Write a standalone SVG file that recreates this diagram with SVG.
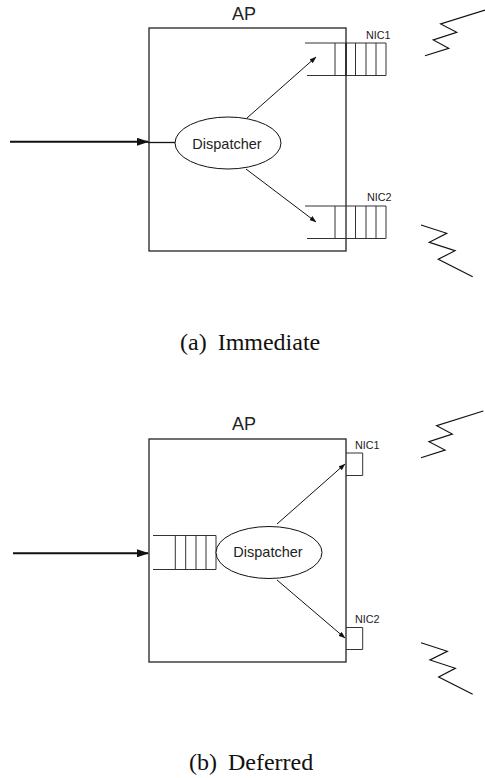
<svg xmlns="http://www.w3.org/2000/svg" width="485" height="778" viewBox="0 0 485 778">
<style>
.b{fill:none;stroke:#222;stroke-width:1.3}
.q{fill:none;stroke:#333;stroke-width:1}
.z{fill:none;stroke:#111;stroke-width:1.2}
.t{font-family:"Liberation Sans",Arial,sans-serif;fill:#222;stroke:none}
.c{font-family:"Liberation Serif","Times New Roman",serif;font-size:24px;word-spacing:5px;fill:#111}
.a{stroke:#111;stroke-width:1;fill:none;marker-end:url(#s)}
.A{stroke:#111;stroke-width:2;fill:none;marker-end:url(#l)}
</style>
<defs>
<marker id="s" markerUnits="userSpaceOnUse" markerWidth="7" markerHeight="5" refX="6.500" refY="2.500" orient="auto"><path d="M0 0L7 2.500L0 5z" fill="#111"/></marker>
<marker id="l" markerUnits="userSpaceOnUse" markerWidth="12" markerHeight="8" refX="11" refY="4" orient="auto"><path d="M0 0L12 4L0 8z" fill="#111"/></marker>
</defs>
<g id="diagram-a">
<g id="ap-a"><rect class="b" x="149" y="28" width="197" height="223"/><text class="t" x="232" y="20" font-size="18">AP</text></g>
<g id="nic1-a"><path class="q" d="M305 43H386V75.500H307M335 43V75.500M355.500 43V75.500M366 43V75.500M376 43V75.500"/><path stroke="#111" stroke-width="1.300" d="M346 43V75.500"/><text class="t" x="366" y="39" font-size="10.800">NIC1</text></g>
<g id="nic2-a"><path class="q" d="M305 206H386V238.500H307M335 206V238.500M355.500 206V238.500M366 206V238.500M376 206V238.500"/><text class="t" x="367" y="201" font-size="10.800">NIC2</text></g>
<g id="dispatcher-a"><ellipse cx="228" cy="143" rx="53" ry="26" fill="#fff" stroke="#111" stroke-width="1"/><text class="t" x="227" y="149" font-size="14.500" text-anchor="middle">Dispatcher</text></g>
<g id="wave1-a"><path class="z" d="M485 10L440.700 24L456.700 32.300L433.300 40L448.700 48.300L425 55.700"/></g>
<g id="wave2-a"><path class="z" d="M421 225L446.700 233.300L429.300 242.300L455 250.700L438.300 259.300L472.700 276.700"/></g>
</g>
<g id="diagram-b">
<g id="ap-b"><rect class="b" x="149" y="439" width="197" height="223"/><text class="t" x="232" y="430" font-size="18">AP</text></g>
<g id="queue-b"><path class="q" d="M153 535.500H216M153 569.500H216M175.300 535.500V569.500M185.700 535.500V569.500M196 535.500V569.500M206 535.500V569.500M216 535.500V569.500"/></g>
<g id="dispatcher-b"><ellipse cx="269" cy="552.500" rx="53" ry="26" fill="#fff" stroke="#111" stroke-width="1"/><text class="t" x="268" y="557" font-size="14.500" text-anchor="middle">Dispatcher</text></g>
<g id="nic1-b"><path class="q" d="M346 453H362.700V475.500H346"/><text class="t" x="355" y="448.500" font-size="10.800">NIC1</text></g>
<g id="nic2-b"><path class="q" d="M346 627.500H362.700V649.500H346"/><text class="t" x="355" y="623" font-size="10.800">NIC2</text></g>
<g id="wave1-b"><path class="z" d="M483.300 411L436.700 425.700L452.300 434L429 441.700L445 450L421 457.700"/></g>
<g id="wave2-b"><path class="z" d="M421 642.700L447.300 651.300L430 660L455.300 668.300L438.700 677L472.700 694.300"/></g>
</g>
<g id="connectors">
<path class="A" d="M10 141.800H148"/>
<path stroke="#111" stroke-width="1.300" d="M148 142.500H175"/>
<path class="a" d="M247 118L316 57"/>
<path class="a" d="M246 169L316 222"/>
<path class="A" d="M13 553.300H148"/>
<path class="a" d="M277 524L345 464"/>
<path class="a" d="M277 580L345 638"/>
</g>
<text class="c" x="180" y="350">(a) Immediate</text>
<text class="c" x="189" y="770">(b) Deferred</text>
</svg>
